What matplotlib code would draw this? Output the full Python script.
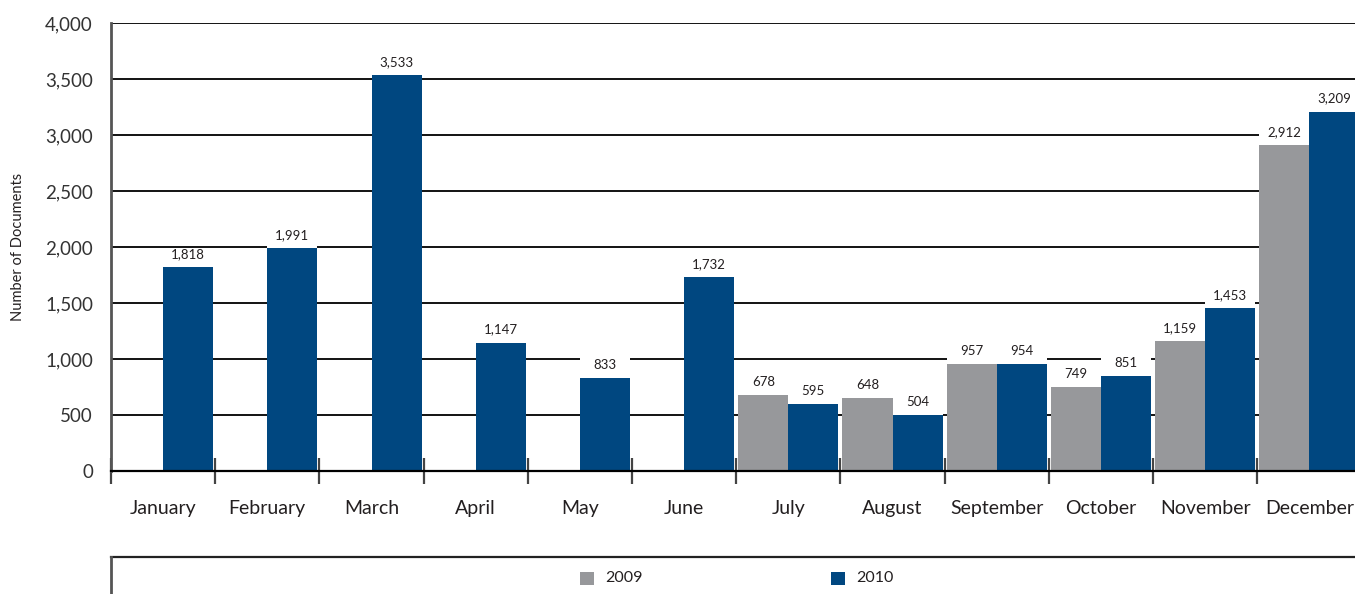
import numpy as np
import matplotlib
matplotlib.use("Agg")
import matplotlib.pyplot as plt
from matplotlib.patches import Rectangle
from matplotlib.lines import Line2D

plt.rcParams['font.family'] = ['Lato', 'DejaVu Sans']

months = ["January", "February", "March", "April", "May", "June",
          "July", "August", "September", "October", "November", "December"]
docs_2009 = [np.nan, np.nan, np.nan, np.nan, np.nan, np.nan,
             678, 648, 957, 749, 1159, 2912]
docs_2010 = [1818, 1991, 3533, 1147, 833, 1732,
             595, 504, 954, 851, 1453, 3209]
y_ticks = [0, 500, 1000, 1500, 2000, 2500, 3000, 3500, 4000]

GRAY = "#97989b"
BLUE = "#004780"
TEXT = "#231f20"

W, H = 1355, 594
fig = plt.figure(figsize=(W / 100, H / 100), dpi=100)
ax = fig.add_axes([111 / W, 1 - 471 / H, 1250.4 / W, 448 / H])

n = len(months)
x = np.arange(n)
bw = 0.48

# white label backing that interrupts gridlines just above each bar
label_h = 176
for vals, off in ((docs_2009, 0.02), (docs_2010, 0.5)):
    for i, v in enumerate(vals):
        if np.isnan(v):
            continue
        ax.add_patch(Rectangle((i + off, v), bw, label_h, facecolor="white",
                               edgecolor="none", zorder=1))

ax.bar(x + 0.02, docs_2009, width=bw, align="edge", color=GRAY, zorder=2)
ax.bar(x + 0.5, docs_2010, width=bw, align="edge", color=BLUE, zorder=2)

for vals, off in ((docs_2009, 0.02), (docs_2010, 0.5)):
    for i, v in enumerate(vals):
        if np.isnan(v):
            continue
        ax.annotate(f"{int(v):,}", (i + off + bw / 2, v), xytext=(0, 5),
                    textcoords="offset points", ha="center", va="bottom",
                    fontsize=9.5, color=TEXT, zorder=3)

ax.set_xlim(0, n)
ax.set_ylim(0, 4000)
ax.set_yticks(y_ticks)
ax.set_yticklabels([f"{t:,}" for t in y_ticks], fontsize=13.5, color="#333333")
ax.tick_params(axis="y", length=0, pad=13)
ax.yaxis.grid(True, color="black", linewidth=1.3, zorder=0)
ax.set_axisbelow(True)

ax.set_xticks(x + 0.5)
ax.set_xticklabels(months, fontsize=14, color=TEXT)
ax.set_xticks(np.arange(n + 1), minor=True)
ax.tick_params(axis="x", which="major", length=0, pad=21)
ax.tick_params(axis="x", which="minor", direction="inout", length=19,
               width=1.6, color="#444444")

for s in ("top", "right"):
    ax.spines[s].set_visible(False)
ax.spines["bottom"].set_color("black")
ax.spines["bottom"].set_linewidth(1.6)
ax.spines["left"].set_color("#555555")
ax.spines["left"].set_linewidth(2)

fig.text(18 / W, 1 - 247 / H, "Number of Documents", rotation=90,
         ha="center", va="center", fontsize=10.5, color=TEXT)

# legend frame
fig.add_artist(Line2D([111 / W, 1], [1 - 557 / H, 1 - 557 / H],
                      color="#222222", linewidth=1.6))
fig.add_artist(Line2D([111 / W, 111 / W], [1 - 557 / H, 0],
                      color="#555555", linewidth=2))
for x0, col, lab in ((580, GRAY, "2009"), (831, BLUE, "2010")):
    fig.add_artist(Rectangle((x0 / W, 1 - 585 / H), 14 / W, 13 / H,
                             facecolor=col, edgecolor="none",
                             transform=fig.transFigure))
    fig.text((x0 + 25) / W, 1 - 578 / H, lab, ha="left", va="center",
             fontsize=11.5, color=TEXT)

fig.savefig("out.png", dpi=100)
